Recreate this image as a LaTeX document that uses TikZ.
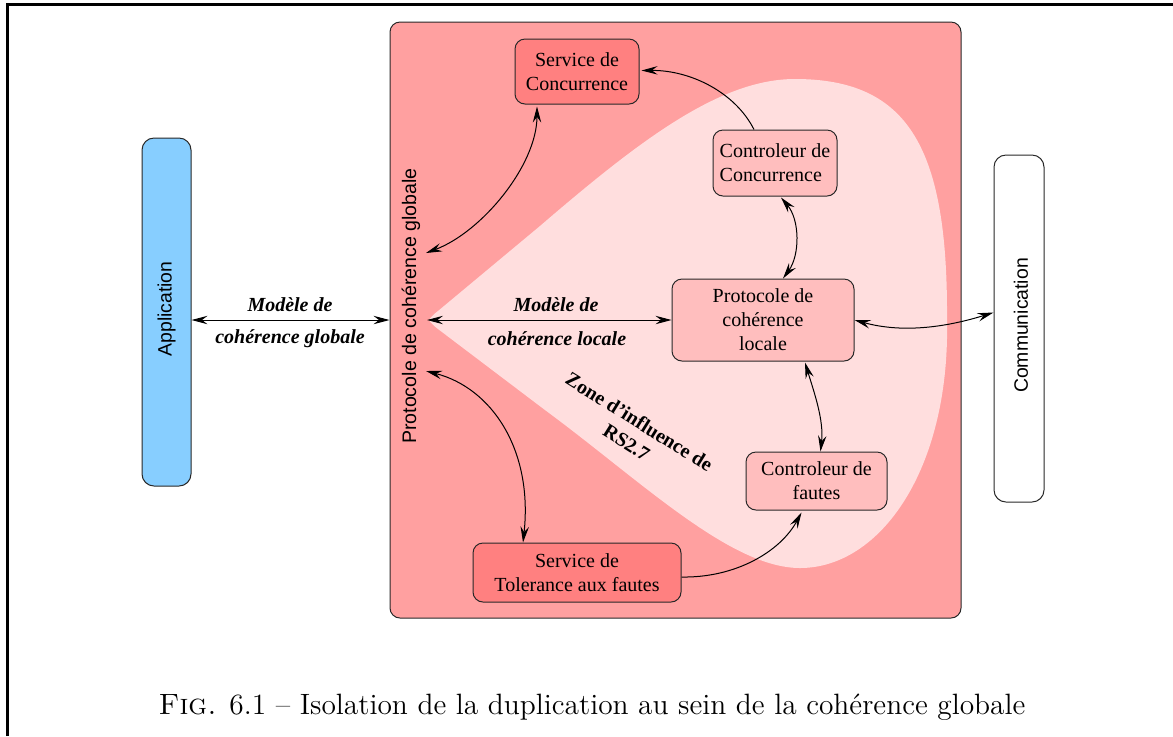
\documentclass[tikz,border=0pt]{standalone}
\usepackage{fontspec}
\newfontfamily\serifT{Liberation Serif}
\newfontfamily\sansA{Liberation Sans}
\usetikzlibrary{arrows.meta,calc}
\definecolor{appblue}{RGB}{135,206,255}
\definecolor{bigpink}{RGB}{255,160,160}
\definecolor{zonepink}{RGB}{255,222,222}
\definecolor{svcred}{RGB}{255,128,128}
\definecolor{ctlpink}{RGB}{255,190,190}
\definecolor{edgegray}{RGB}{40,40,40}
\tikzset{
  box/.style={draw=edgegray, line width=0.5pt, rounded corners=5pt, inner sep=0pt,
    font=\serifT\fontsize{10}{12}\selectfont, align=center},
  bar/.style={draw=edgegray, line width=0.5pt, rounded corners=6pt, inner sep=0pt},
  bartext/.style={rotate=90, font=\sansA\fontsize{9.7}{11}\selectfont},
  lbl/.style={font=\serifT\bfseries\itshape\fontsize{10}{12}\selectfont},
  conn/.style={line width=0.5pt, draw=black},
  >={Stealth[length=8pt,width=4.2pt,inset=2.8pt]}
}
\begin{document}
\begin{tikzpicture}[x=0.5pt,y=-0.5pt]
\useasboundingbox (0,0) rectangle (1173,736);
% frame
\draw[line width=1.5pt, line join=miter] (7.5,736) -- (7.5,4.5) -- (1173,4.5);
% side bars
\node[bar, fill=appblue, minimum width=24.5pt, minimum height=174pt] (app) at (166.5,312) {};
\node[bartext] (apptxt) at (166.5,309) {Application};
\node[bar, fill=white, minimum width=25pt, minimum height=173.5pt] (com) at (1019,328.5) {};
\node[bartext] (comtxt) at (1021,325.5) {Communication};
% big box
\node[draw=edgegray, line width=0.5pt, rounded corners=5pt, fill=bigpink, inner sep=0pt,
  minimum width=285.5pt, minimum height=298pt] (big) at (675.5,320) {};
% zone of influence
\fill[zonepink] (429,320) .. controls (431,317) and (434,314) .. (438,311)
  -- (540,226)
  .. controls (640,140) and (720,79) .. (795,79)
  .. controls (910,79) and (948,150) .. (947,320)
  .. controls (950,470) and (880,568) .. (800,568)
  .. controls (730,568) and (640,480) .. (545,410)
  -- (438,329) .. controls (434,326) and (431,323) .. (429,320) -- cycle;
\node[bartext, font=\sansA\fontsize{9.8}{11}\selectfont] (pg) at (411,306) {Protocole de cohérence globale};
% inner boxes
\node[box, fill=svcred, minimum width=62pt, minimum height=32.5pt] (sc) at (577,71.5) {Service de\\Concurrence};
\node[box, fill=ctlpink, align=left, minimum width=62pt, minimum height=33pt] (cc) at (775,163) {Controleur de\\Concurrence};
\node[box, fill=ctlpink, minimum width=91pt, minimum height=41pt] (pl) at (763,320) {Protocole de\\cohérence\\locale};
\node[box, fill=ctlpink, minimum width=70.5pt, minimum height=29pt] (cf) at (816.5,481) {Controleur de\\fautes};
\node[box, fill=svcred, minimum width=104pt, minimum height=29.5pt] (st) at (577,572.5) {Service de\\Tolerance aux fautes};
% zone label
\node[rotate=-32, align=center, font=\serifT\bfseries\fontsize{10}{12}\selectfont] (zt) at (633,432) {Zone d’influence de\\RS2.7};
% coordinates on the global protocol
\coordinate (tip) at (427,320);
\coordinate (g1) at (426,253);
\coordinate (g2) at (426,371);
% connectors
\draw[conn,<->] ($(app.east)+(0,8)$) -- (big.west);
\node[lbl] (l1a) at (290,305) {Modèle de};
\node[lbl] (l1b) at (290,339) {cohérence globale};
\draw[conn,<->] (tip) -- (pl.west);
\node[lbl] (l2a) at (556,305) {Modèle de};
\node[lbl] (l2b) at (557,339) {cohérence locale};
\draw[conn,<->] (g1) .. controls (482,232) and (537,165) .. ($(sc.south)+(-40,2)$);
\draw[conn,<->] (g2) .. controls (492,388) and (533,450) .. ($(st.north)+(-54,0)$);
\draw[conn,->] ($(cc.north)+(-21,0)$) .. controls (735,92) and (690,70) .. ($(sc.east)+(2,-1)$);
\draw[conn,<->] ($(cc.south)+(6,1)$) .. controls (800,220) and (800,255) .. ($(pl.north)+(20,0)$);
\draw[conn,<->] (pl.east) .. controls (905,334) and (950,326) .. ($(com.west)+(0,-16)$);
\draw[conn,<->] ($(pl.south)+(42,1)$) .. controls (814,392) and (824,420) .. ($(cf.north)+(4,0)$);
\draw[conn,->] ($(st.east)+(0,4.5)$) .. controls (735,578) and (780,552) .. ($(cf.south)+(-15,2)$);
% caption
\node[font=\fontsize{14.7}{17}\selectfont, anchor=base] (cap) at (592,714)
  {\textsc{Fig.} 6.1 -- Isolation de la duplication au sein de la cohérence globale};
\end{tikzpicture}
\end{document}
